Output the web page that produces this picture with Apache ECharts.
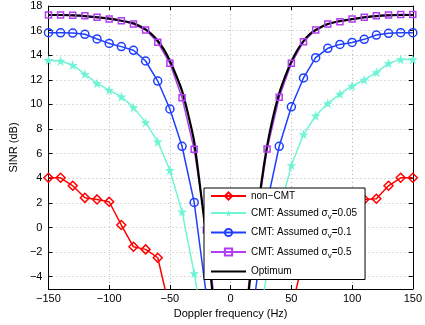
<!DOCTYPE html>
<html>
<head>
<meta charset="utf-8">
<script src="https://cdn.jsdelivr.net/npm/echarts@6/dist/echarts.min.js"></script>
<style>
  html, body { margin: 0; padding: 0; background: #fff; }
  #sinr { width: 425px; height: 325px; }
</style>
</head>
<body>
<div id="sinr"></div>
<script>
// doppler bins (Hz) for the marker curves
const dopplerHz = [-150, -140, -130, -120, -110, -100, -90, -80, -70, -60, -50, -40, -30, -20, -10,
  0, 10, 20, 30, 40, 50, 60, 70, 80, 90, 100, 110, 120, 130, 140, 150];

const nonCmt = [4.04, 4.04, 3.39, 2.41, 2.28, 2.09, 0.2, -1.57, -1.78, -2.46, -6.7, -10, -13, -15, -17,
  -18, -17, -15, -13, -10, -6.7, -2.46, -1.78, -1.57, 0.2, 2.09, 2.28, 2.33, 3.39, 4.04, 4.04];
const cmt005 = [13.6, 13.53, 13.2, 12.47, 11.71, 11.17, 10.63, 9.76, 8.54, 6.97, 4.65, 1.28, -3.73, -9.5, -16,
  -20, -16, -9.5, -3.7, 1.3, 5.05, 7.57, 9.08, 10.09, 10.85, 11.5, 12.0, 12.61, 13.34, 13.66, 13.66];
const cmt01 = [15.83, 15.82, 15.8, 15.7, 15.32, 14.96, 14.7, 14.4, 13.53, 11.9, 9.63, 6.6, 2.04, -5.5, -13,
  -17, -13, -5.5, 2.0, 6.6, 9.81, 12.15, 13.8, 14.56, 14.88, 15.04, 15.29, 15.64, 15.78, 15.83, 15.83];
const cmt05 = [17.27, 17.27, 17.25, 17.2, 17.08, 16.94, 16.8, 16.54, 16.05, 15.05, 13.34, 10.55, 6.35, -0.2, -9,
  -13, -9, -0.2, 6.37, 10.58, 13.34, 15.1, 16.05, 16.54, 16.73, 16.94, 17.08, 17.2, 17.27, 17.3, 17.3];

// optimum curve, read at 5 Hz steps
const optimumHz = [-150, -140, -130, -120, -110, -100, -90, -80, -75, -70, -65, -60, -55, -50, -45, -40, -35, -30, -25, -20, -15, -10, -5,
  0, 5, 10, 15, 20, 25, 30, 35, 40, 45, 50, 55, 60, 65, 70, 80, 90, 100, 110, 120, 130, 140, 150];
const optimum = [17.27, 17.27, 17.24, 17.18, 17.08, 16.97, 16.8, 16.59, 16.37, 16.1, 15.7, 15.18, 14.47, 13.53, 12.39, 11.1, 9.2, 6.97, 3.2, -0.8, -5.2, -11, -17,
  -20, -17, -11, -5.1, -0.8, 3.4, 6.6, 9.0, 10.9, 12.3, 13.47, 14.42, 15.15, 15.7, 16.05, 16.54, 16.78, 16.94, 17.08, 17.18, 17.24, 17.27, 17.27];

const yTicks = [-4, -2, 0, 2, 4, 6, 8, 10, 12, 14, 16, 18];

const legendNames = {
  "non-CMT": "{t|non\u2212CMT}",
  "s005": "{t|CMT: Assumed \u03c3}{s|v}{t|=0.05}",
  "s01": "{t|CMT: Assumed \u03c3}{s|v}{t|=0.1}",
  "s05": "{t|CMT: Assumed \u03c3}{s|v}{t|=0.5}",
  "Optimum": "{t|Optimum}",
};

const starPath = "path://M50,0 L61,35 L98,35 L68,57 L79,91 L50,70 L21,91 L32,57 L2,35 L39,35 Z";
const font = "Liberation Sans, Arial, Helvetica, sans-serif";

const pairs = (xs, ys) => xs.map((x, i) => [x, ys[i]]);

const myChart = echarts.init(document.getElementById("sinr"));

const markerSeries = (name, color, values, symbol, size, filled) => ({
  name: name,
  type: "line",
  data: pairs(dopplerHz, values),
  symbol: symbol,
  symbolSize: size,
  showAllSymbol: true,
  clip: true,
  lineStyle: { color: color, width: 1.5 },
  itemStyle: {
    color: filled ? color : "rgba(255,255,255,0)",
    borderColor: color,
    borderWidth: filled ? 0 : 1.5,
  },
  emphasis: { disabled: true },
});

const option = {
  animation: false,
  grid: { left: 37, right: 10, top: 6, bottom: 36 },
  legend: {
    left: 204,
    top: 188,
    orient: "vertical",
    backgroundColor: "#fff",
    borderColor: "#000",
    borderWidth: 1,
    padding: [3, 8, 3, 6],
    itemWidth: 35,
    itemHeight: 9,
    itemGap: 7,
    formatter: (name) => legendNames[name],
    textStyle: {
      fontFamily: font,
      color: "#000",
      rich: {
        t: { fontSize: 10, fontFamily: font, color: "#000", lineHeight: 16 },
        s: { fontSize: 8, fontFamily: font, color: "#000", padding: [7, 0, 0, 0] },
      },
    },
    data: [
      "non-CMT",
      "s005",
      "s01",
      "s05",
      { name: "Optimum", itemStyle: { opacity: 0 } },
    ],
  },
  xAxis: [
    {
      type: "value",
      min: -150,
      max: 150,
      interval: 50,
      name: "Doppler frequency (Hz)",
      nameLocation: "middle",
      nameGap: 17,
      nameTextStyle: { fontFamily: font, fontSize: 11, color: "#000" },
      axisLine: { onZero: false, lineStyle: { color: "#000", width: 1 } },
      axisTick: { inside: true, length: 4, lineStyle: { color: "#000" } },
      axisLabel: {
        margin: 4,
        fontFamily: font,
        fontSize: 11,
        color: "#000",
        formatter: (v) => String(v).replace("-", "\u2212"),
      },
      splitLine: { show: true, lineStyle: { color: "#b4b4b4", type: [1, 3], width: 1 } },
    },
    {
      type: "value",
      position: "top",
      min: -150,
      max: 150,
      interval: 50,
      axisLine: { onZero: false, lineStyle: { color: "#000", width: 1 } },
      axisTick: { inside: true, length: 4, lineStyle: { color: "#000" } },
      axisLabel: { show: false },
      splitLine: { show: false },
    },
  ],
  yAxis: [
    {
      type: "value",
      min: -5,
      max: 18,
      name: "SINR (dB)",
      nameLocation: "middle",
      nameGap: 21,
      nameTextStyle: { fontFamily: font, fontSize: 11, color: "#000" },
      axisLine: { onZero: false, lineStyle: { color: "#000", width: 1 } },
      axisTick: { inside: true, length: 4, customValues: yTicks, lineStyle: { color: "#000" } },
      axisLabel: {
        customValues: yTicks,
        margin: 6,
        fontFamily: font,
        fontSize: 11,
        color: "#000",
        formatter: (v) => String(v).replace("-", "\u2212"),
      },
      splitLine: { show: true, lineStyle: { color: "#b4b4b4", type: [1, 3], width: 1 } },
    },
    {
      type: "value",
      position: "right",
      min: -5,
      max: 18,
      axisLine: { onZero: false, lineStyle: { color: "#000", width: 1 } },
      axisTick: { inside: true, length: 4, customValues: yTicks, lineStyle: { color: "#000" } },
      axisLabel: { show: false },
      splitLine: { show: false },
    },
  ],
  series: [
    markerSeries("non-CMT", "#ff0000", nonCmt, "diamond", 9, false),
    markerSeries("s005", "#6ff5d6", cmt005, starPath, 10, true),
    markerSeries("s01", "#1f3fff", cmt01, "circle", 8, false),
    markerSeries("s05", "#b23cf0", cmt05, "rect", 6, false),
    {
      name: "Optimum",
      type: "line",
      data: pairs(optimumHz, optimum),
      symbol: "none",
      smooth: 0.2,
      clip: true,
      lineStyle: { color: "#000", width: 2.2 },
      itemStyle: { color: "#000" },
      emphasis: { disabled: true },
    },
  ],
};

option && myChart.setOption(option);
</script>
</body>
</html>
